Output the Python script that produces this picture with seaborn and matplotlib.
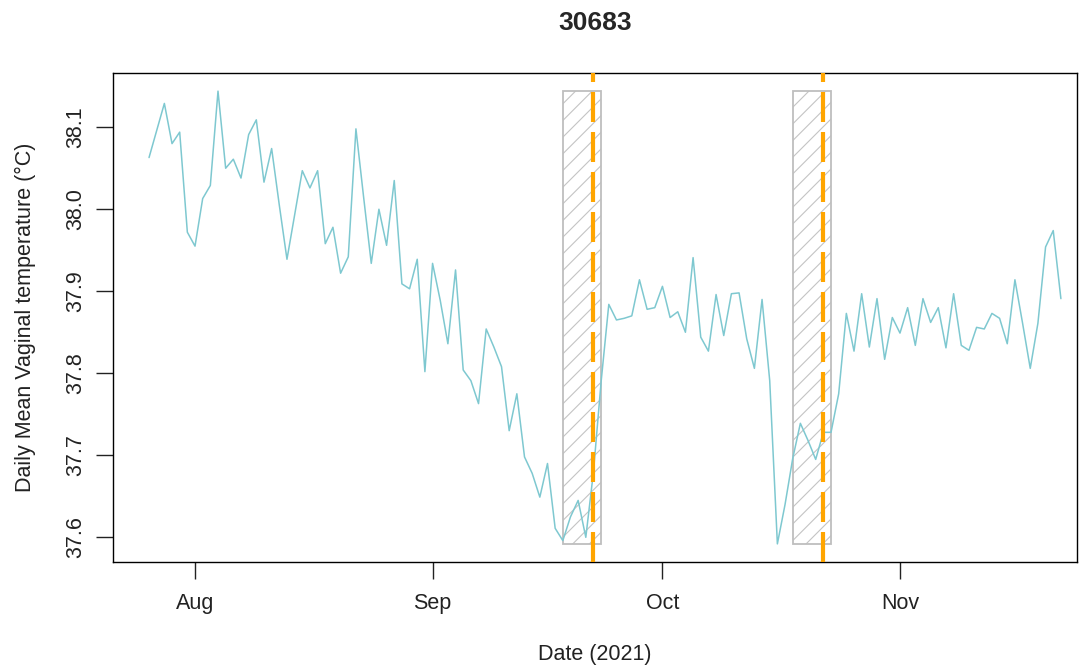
import pandas as pd
import numpy as np
import matplotlib
matplotlib.use("Agg")
import matplotlib.pyplot as plt
import matplotlib.dates as mdates
from matplotlib.patches import Rectangle
import seaborn as sns

# daily mean vaginal temperature for cow 30683, one value per day from 26 Jul 2021
start_date = "2021-07-26"
temp_values = [
    38.063, 38.096, 38.129, 38.080, 38.094, 37.972, 37.955, 38.013, 38.029, 38.144,
    38.050, 38.061, 38.038, 38.091, 38.109, 38.033, 38.074, 38.005, 37.939, 37.993,
    38.047, 38.026, 38.047, 37.958, 37.978, 37.922, 37.942, 38.098, 38.015, 37.934,
    38.000, 37.956, 38.035, 37.909, 37.903, 37.939, 37.802, 37.934, 37.889, 37.836,
    37.926, 37.804, 37.791, 37.763, 37.854, 37.832, 37.808, 37.730, 37.775, 37.698,
    37.678, 37.649, 37.690, 37.611, 37.596, 37.625, 37.645, 37.600, 37.680, 37.790,
    37.884, 37.865, 37.867, 37.870, 37.914, 37.878, 37.880, 37.906, 37.868, 37.875,
    37.850, 37.941, 37.844, 37.827, 37.896, 37.846, 37.897, 37.898, 37.842, 37.806,
    37.890, 37.791, 37.592, 37.640, 37.696, 37.739, 37.718, 37.695, 37.728, 37.728,
    37.775, 37.873, 37.827, 37.897, 37.832, 37.891, 37.817, 37.868, 37.849, 37.880,
    37.834, 37.891, 37.862, 37.880, 37.831, 37.897, 37.834, 37.828, 37.856, 37.854,
    37.873, 37.867, 37.836, 37.914, 37.861, 37.806, 37.861, 37.954, 37.974, 37.891,
]

# heat windows (shaded) and the heat date itself (orange line)
window_starts = ["2021-09-18", "2021-10-18"]
window_ends = ["2021-09-23", "2021-10-23"]
heat_dates = ["2021-09-22", "2021-10-22"]

ytick_values = [37.6, 37.7, 37.8, 37.9, 38.0, 38.1]
month_ticks = ["2021-08-01", "2021-09-01", "2021-10-01", "2021-11-01"]
x_limits = ["2021-07-21 07:15", "2021-11-24 02:30"]

df = pd.DataFrame({
    "date": pd.date_range(start_date, periods=len(temp_values), freq="D"),
    "temp": temp_values,
})

sns.set_style("white")
plt.rcParams["font.family"] = ["Liberation Sans", "DejaVu Sans"]
plt.rcParams["hatch.linewidth"] = 0.8

fig = plt.figure(figsize=(10.89, 6.68), dpi=100)
ax = fig.add_axes([0.1038, 0.1587, 0.8852, 0.732])

ymin, ymax = df["temp"].min(), df["temp"].max()
for s, e in zip(window_starts, window_ends):
    x0 = mdates.date2num(pd.Timestamp(s))
    x1 = mdates.date2num(pd.Timestamp(e))
    # hatch fill, then the grey border on top
    ax.add_patch(Rectangle((x0, ymin), x1 - x0, ymax - ymin, facecolor="none",
                           edgecolor="#C4C4C4", hatch="//", linewidth=0, zorder=1))
    ax.add_patch(Rectangle((x0, ymin), x1 - x0, ymax - ymin, facecolor="none",
                           edgecolor="#BEBEBE", linewidth=1.3, zorder=1))

sns.lineplot(data=df, x="date", y="temp", color="#7EC8D0", linewidth=1.1, ax=ax, zorder=2)

for d in heat_dates:
    ax.axvline(pd.Timestamp(d), color="#FFA500", linewidth=3, dashes=(7.2, 2.4), zorder=3)

ax.set_xlim(pd.Timestamp(x_limits[0]), pd.Timestamp(x_limits[1]))
yspan = ymax - ymin
ax.set_ylim(ymin - 0.04 * yspan, ymax + 0.04 * yspan)

ax.set_xticks([pd.Timestamp(m) for m in month_ticks])
ax.xaxis.set_major_formatter(mdates.DateFormatter("%b"))
ax.set_yticks(ytick_values)
ax.set_yticklabels([f"{v:.1f}" for v in ytick_values], rotation=90, va="center")

ax.tick_params(axis="both", direction="out", length=12, width=1, color="#222222",
               labelsize=15.5, labelcolor="#222222", bottom=True, left=True)
ax.tick_params(axis="x", pad=10)
ax.tick_params(axis="y", pad=7)

for sp in ax.spines.values():
    sp.set_visible(True)
    sp.set_color("black")
    sp.set_linewidth(1)

ax.set_xlabel("Date (2021)", fontsize=15.5, labelpad=22, color="#222222")
ax.set_ylabel("Daily Mean Vaginal temperature (°C)", fontsize=15.5, labelpad=21, color="#222222")
ax.set_title("30683", fontsize=19, fontweight="bold", pad=31)

fig.savefig("out.png", dpi=100)
